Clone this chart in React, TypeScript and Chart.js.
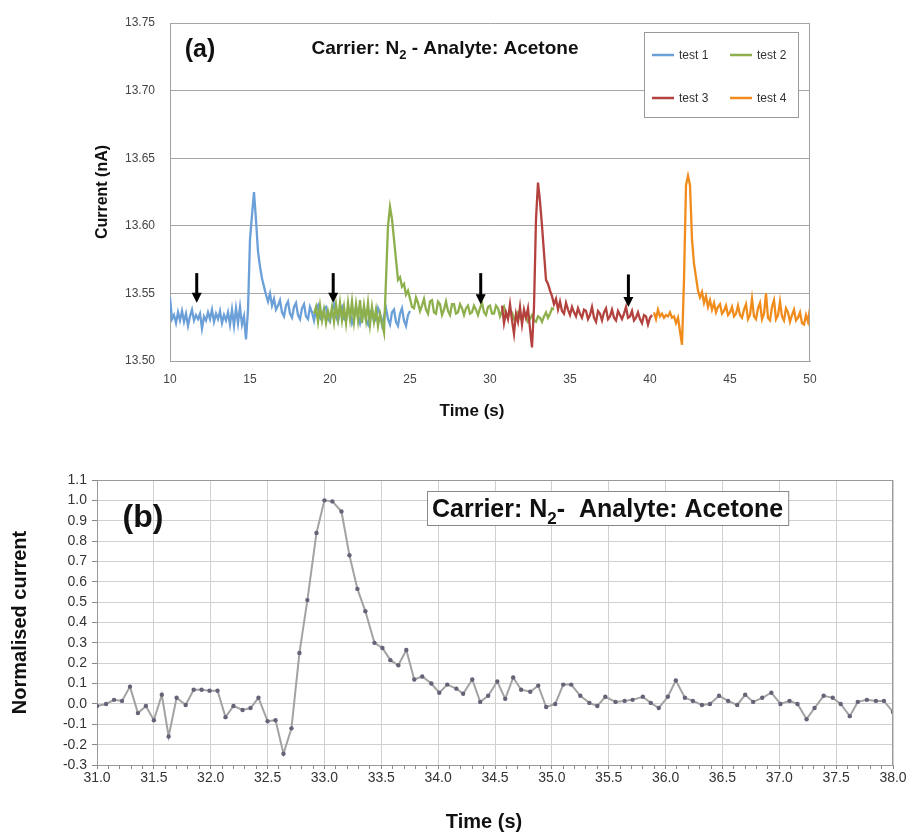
import React, { useEffect, useRef } from "react";
import { Chart, registerables } from "chart.js";

Chart.register(...registerables);

const FONT = "'Liberation Sans', Arial, Helvetica, sans-serif";

// ---------------- Panel (a) data ----------------
const seriesLabels = ["test 1", "test 2", "test 3", "test 4"];
const seriesColors = ["#6a9fd8", "#8db04c", "#b3423f", "#f08c1c"];
const sampleStep = 0.125; // s between samples
const seriesStart = [10, 19, 30.75, 40.25]; // s, first sample of each test

const test1 = [
  13.547, 13.531, 13.534, 13.528, 13.536, 13.530, 13.537, 13.529, 13.535, 13.526,
  13.533, 13.538, 13.530, 13.534, 13.531, 13.535, 13.524, 13.533, 13.530, 13.536,
  13.531, 13.538, 13.529, 13.535, 13.531, 13.537, 13.528, 13.534, 13.530, 13.536,
  13.527, 13.538, 13.526, 13.539, 13.528, 13.540, 13.527, 13.533, 13.516, 13.538,
  13.590, 13.608, 13.625, 13.604, 13.581, 13.570, 13.561, 13.555,
  13.549, 13.544, 13.550, 13.541, 13.546, 13.538, 13.541, 13.545, 13.536, 13.533,
  13.541, 13.544, 13.535, 13.532, 13.540, 13.543, 13.534, 13.531, 13.539, 13.542,
  13.533, 13.531, 13.540, 13.536, 13.530, 13.538, 13.541, 13.532, 13.530, 13.539,
  13.540, 13.531, 13.529, 13.538, 13.542, 13.533, 13.529, 13.537, 13.540, 13.531,
  13.530, 13.539, 13.536, 13.528, 13.533, 13.540, 13.534, 13.528, 13.536, 13.539,
  13.530, 13.527, 13.536, 13.538, 13.529, 13.531, 13.539, 13.535, 13.527, 13.533,
  13.539, 13.531, 13.527, 13.536, 13.538, 13.529, 13.526, 13.535, 13.539, 13.530,
  13.526, 13.534, 13.537,
];

const test2 = [
  13.535, 13.540, 13.529, 13.541, 13.530, 13.538, 13.528, 13.537, 13.531, 13.540,
  13.529, 13.542, 13.531, 13.543, 13.530, 13.540, 13.528, 13.543, 13.531, 13.544,
  13.529, 13.542, 13.530, 13.545, 13.528, 13.541, 13.530, 13.543, 13.527, 13.540,
  13.529, 13.538, 13.526, 13.535, 13.528, 13.521, 13.560, 13.600, 13.614, 13.605,
  13.590, 13.575, 13.560, 13.562, 13.555, 13.557, 13.549, 13.552,
  13.546, 13.540, 13.539, 13.547, 13.543, 13.537, 13.541, 13.546, 13.538, 13.535,
  13.544, 13.545, 13.536, 13.535, 13.544, 13.542, 13.534, 13.538, 13.544, 13.537,
  13.534, 13.542, 13.542, 13.535, 13.536, 13.542, 13.539, 13.534, 13.539, 13.541,
  13.535, 13.536, 13.541, 13.538, 13.534, 13.539, 13.543, 13.536, 13.534, 13.540,
  13.541, 13.535, 13.535, 13.541, 13.539, 13.533, 13.537, 13.540, 13.534, 13.532,
  13.537, 13.536, 13.531, 13.533, 13.536, 13.532, 13.530, 13.534, 13.533, 13.529,
  13.531, 13.534, 13.530, 13.529, 13.533, 13.532, 13.529, 13.533, 13.536, 13.532,
  13.535, 13.539, 13.538,
];

const test3 = [
  13.541, 13.528, 13.536, 13.531, 13.542, 13.530, 13.520, 13.535, 13.529, 13.540,
  13.527, 13.538, 13.532, 13.539, 13.524, 13.510, 13.540, 13.605, 13.632, 13.618,
  13.600, 13.580, 13.560, 13.557, 13.552, 13.548,
  13.542, 13.546, 13.538, 13.544, 13.537, 13.535, 13.543, 13.538, 13.534, 13.540,
  13.536, 13.533, 13.539, 13.535, 13.532, 13.538, 13.537, 13.531, 13.534, 13.540,
  13.532, 13.529, 13.537, 13.535, 13.530, 13.536, 13.539, 13.531, 13.533, 13.538,
  13.532, 13.530, 13.537, 13.534, 13.531, 13.535, 13.540, 13.532, 13.533, 13.537,
  13.530, 13.532, 13.536, 13.531, 13.528, 13.534, 13.533, 13.527, 13.532, 13.534,
];

const test4 = [
  13.536, 13.531, 13.538, 13.533, 13.535, 13.532, 13.534, 13.533, 13.536, 13.532,
  13.533, 13.528, 13.532, 13.522, 13.512, 13.560, 13.630, 13.637, 13.630, 13.590,
  13.572, 13.562,
  13.552, 13.547, 13.551, 13.543, 13.548, 13.540, 13.545, 13.538, 13.543, 13.536,
  13.540, 13.542, 13.535, 13.537, 13.541, 13.534, 13.536, 13.540, 13.533, 13.535,
  13.541, 13.534, 13.532, 13.538, 13.542, 13.531, 13.534, 13.546, 13.533, 13.531,
  13.539, 13.543, 13.531, 13.535, 13.550, 13.532, 13.530, 13.540, 13.545, 13.531,
  13.534, 13.544, 13.533, 13.530, 13.539, 13.536, 13.529, 13.534, 13.538, 13.530,
  13.532, 13.536, 13.528, 13.527, 13.534, 13.529, 13.539,
];

// injection arrows (time, top of shaft, tip) in data units
const arrowTimes = [11.67, 20.2, 29.42, 38.65];
const arrowTops = [13.565, 13.565, 13.565, 13.564];
const arrowTips = [13.543, 13.543, 13.542, 13.540];

const xRangeA = [10, 50];
const xStepA = 5;
const yRangeA = [13.5, 13.75];
const yStepA = 0.05;

// ---------------- Panel (b) data ----------------
const bTimes = [
  31.00, 31.08, 31.15, 31.22, 31.29, 31.36, 31.43, 31.50, 31.57, 31.63,
  31.70, 31.78, 31.85, 31.92, 31.99, 32.06, 32.13, 32.20, 32.28, 32.35,
  32.42, 32.50, 32.57, 32.64, 32.71, 32.78, 32.85, 32.93, 33.00, 33.07,
  33.15, 33.22, 33.29, 33.36, 33.44, 33.51, 33.58, 33.65, 33.72, 33.79,
  33.86, 33.94, 34.01, 34.08, 34.16, 34.22, 34.30, 34.37, 34.44, 34.52,
  34.59, 34.66, 34.73, 34.81, 34.88, 34.95, 35.03, 35.10, 35.17, 35.25,
  35.33, 35.40, 35.47, 35.56, 35.64, 35.71, 35.80, 35.87, 35.94, 36.02,
  36.09, 36.17, 36.24, 36.32, 36.39, 36.47, 36.55, 36.63, 36.70, 36.77,
  36.85, 36.93, 37.01, 37.09, 37.16, 37.24, 37.31, 37.39, 37.47, 37.54,
  37.62, 37.69, 37.77, 37.85, 37.92, 38.00,
];
const bValues = [
  -0.01, 0.0, 0.02, 0.015, 0.085, -0.045, -0.01, -0.08, 0.045, -0.16,
  0.03, -0.005, 0.07, 0.07, 0.065, 0.065, -0.065, -0.01, -0.03, -0.02,
  0.03, -0.085, -0.08, -0.245, -0.12, 0.25, 0.51, 0.84, 1.0, 0.995,
  0.945, 0.73, 0.565, 0.455, 0.30, 0.275, 0.215, 0.19, 0.265, 0.12,
  0.135, 0.10, 0.055, 0.095, 0.075, 0.05, 0.12, 0.01, 0.04, 0.11,
  0.025, 0.13, 0.07, 0.06, 0.09, -0.015, 0.0, 0.095, 0.095, 0.04,
  0.005, -0.01, 0.035, 0.01, 0.015, 0.02, 0.035, 0.005, -0.02, 0.035,
  0.115, 0.03, 0.015, -0.005, 0.0, 0.04, 0.015, -0.005, 0.045, 0.01,
  0.03, 0.055, 0.0, 0.015, 0.0, -0.075, -0.02, 0.04, 0.03, 0.0,
  -0.06, 0.01, 0.02, 0.015, 0.015, -0.04,
];
const xRangeB = [31, 38];
const xMinorStepB = 0.1;
const xLabelStepB = 0.5;
const yRangeB = [-0.3, 1.1];
const yStepB = 0.1;

const titlePartsA = [
  { text: "Carrier: N", sub: false },
  { text: "2", sub: true },
  { text: " - Analyte: Acetone", sub: false },
];
const titlePartsB = [
  { text: "Carrier: N", sub: false },
  { text: "2", sub: true },
  { text: "-  Analyte: Acetone", sub: false },
];

type Part = { text: string; sub: boolean };

function measureRich(ctx: CanvasRenderingContext2D, parts: Part[], size: number) {
  let w = 0;
  for (const p of parts) {
    ctx.font = `bold ${p.sub ? Math.round(size * 0.66) : size}px ${FONT}`;
    w += ctx.measureText(p.text).width;
  }
  return w;
}

function drawRich(ctx: CanvasRenderingContext2D, parts: Part[], x: number, baseline: number, size: number) {
  let cx = x;
  ctx.textAlign = "left";
  ctx.textBaseline = "alphabetic";
  ctx.fillStyle = "#111";
  for (const p of parts) {
    ctx.font = `bold ${p.sub ? Math.round(size * 0.66) : size}px ${FONT}`;
    ctx.fillText(p.text, cx, p.sub ? baseline + size * 0.28 : baseline);
    cx += ctx.measureText(p.text).width;
  }
}

const isMultiple = (v: number, step: number) => {
  const r = Math.round(v / step) * step;
  return Math.abs(v - r) < 1e-6;
};

export default function App() {
  const refA = useRef<HTMLCanvasElement | null>(null);
  const refB = useRef<HTMLCanvasElement | null>(null);

  useEffect(() => {
    document.body.style.margin = "0";
    Chart.defaults.font.family = FONT;

    const dataA = [test1, test2, test3, test4];

    const decorA = {
      id: "decorA",
      afterDraw(chart: any) {
        const { ctx, chartArea: ca, scales } = chart;
        const xs = scales.x;
        const ys = scales.y;
        ctx.save();
        // right frame
        ctx.strokeStyle = "#a0a0a0";
        ctx.lineWidth = 1;
        ctx.beginPath();
        ctx.moveTo(Math.round(ca.right) - 0.5, ca.top);
        ctx.lineTo(Math.round(ca.right) - 0.5, ca.bottom);
        ctx.stroke();

        // arrows
        ctx.fillStyle = "#000";
        ctx.strokeStyle = "#000";
        arrowTimes.forEach((t, i) => {
          const x = xs.getPixelForValue(t);
          const yTop = ys.getPixelForValue(arrowTops[i]);
          const yTip = ys.getPixelForValue(arrowTips[i]);
          ctx.lineWidth = 3;
          ctx.beginPath();
          ctx.moveTo(x, yTop);
          ctx.lineTo(x, yTip - 8);
          ctx.stroke();
          ctx.beginPath();
          ctx.moveTo(x - 5, yTip - 10);
          ctx.lineTo(x + 5, yTip - 10);
          ctx.lineTo(x, yTip);
          ctx.closePath();
          ctx.fill();
        });

        // panel label
        ctx.fillStyle = "#111";
        ctx.font = `bold 25px ${FONT}`;
        ctx.textAlign = "center";
        ctx.textBaseline = "middle";
        ctx.fillText("(a)", ca.left + 30, ca.top + 27);

        // title
        const size = 19;
        const w = measureRich(ctx, titlePartsA, size);
        drawRich(ctx, titlePartsA, ca.left + 275 - w / 2, ca.top + 31, size);

        // legend
        const lx = ca.left + 474;
        const ly = ca.top + 9;
        ctx.fillStyle = "#fff";
        ctx.fillRect(lx, ly, 154, 85);
        ctx.strokeStyle = "#9a9a9a";
        ctx.lineWidth = 1;
        ctx.strokeRect(lx + 0.5, ly + 0.5, 154, 85);
        const cols = [8, 86];
        const rows = [23, 66];
        seriesLabels.forEach((lab, i) => {
          const cx = lx + cols[i % 2];
          const cy = ly + rows[Math.floor(i / 2)];
          ctx.strokeStyle = seriesColors[i];
          ctx.lineWidth = 2.5;
          ctx.beginPath();
          ctx.moveTo(cx, cy);
          ctx.lineTo(cx + 22, cy);
          ctx.stroke();
          ctx.fillStyle = "#333";
          ctx.font = `12px ${FONT}`;
          ctx.textAlign = "left";
          ctx.textBaseline = "middle";
          ctx.fillText(lab, cx + 27, cy + 1);
        });

        // x axis title
        ctx.fillStyle = "#111";
        ctx.font = `bold 17px ${FONT}`;
        ctx.textAlign = "center";
        ctx.textBaseline = "middle";
        ctx.fillText("Time (s)", ca.left + 302, ca.bottom + 50);
        ctx.restore();
      },
    };

    const chartA = new Chart(refA.current as HTMLCanvasElement, {
      type: "line",
      data: {
        datasets: dataA.map((vals, k) => ({
          label: seriesLabels[k],
          data: vals.map((v, i) => ({ x: seriesStart[k] + i * sampleStep, y: v })),
          borderColor: seriesColors[k],
          backgroundColor: seriesColors[k],
          borderWidth: 2.3,
          pointRadius: 0,
          tension: 0,
          order: 4 - k,
        })),
      },
      options: {
        responsive: false,
        animation: false,
        events: [],
        layout: { padding: { left: 89, right: 96, top: 23, bottom: 0 } },
        plugins: { legend: { display: false }, tooltip: { enabled: false } },
        scales: {
          x: {
            type: "linear",
            min: xRangeA[0],
            max: xRangeA[1],
            ticks: {
              stepSize: xStepA,
              color: "#444",
              font: { family: FONT, size: 12 },
              padding: 11,
              maxRotation: 0,
            },
            grid: { display: false, drawTicks: false },
            border: { display: true, color: "#a0a0a0", width: 1 },
            afterFit: (s: any) => {
              s.height = 79;
              s.paddingLeft = 0;
              s.paddingRight = 0;
            },
          },
          y: {
            type: "linear",
            min: yRangeA[0],
            max: yRangeA[1],
            ticks: {
              stepSize: yStepA,
              autoSkip: false,
              color: "#444",
              font: { family: FONT, size: 12 },
              padding: 15,
              callback: (v: any) => Number(v).toFixed(2),
            },
            grid: { color: "#a6a6a6", drawTicks: false, lineWidth: 1 },
            border: { display: true, color: "#a0a0a0", width: 1 },
            title: {
              display: true,
              text: "Current (nA)",
              color: "#111",
              font: { family: FONT, size: 16, weight: "bold" },
              padding: { top: 4, bottom: 4 },
            },
            afterFit: (s: any) => {
              s.width = 81;
            },
          },
        },
      } as any,
      plugins: [decorA],
    });

    const decorB = {
      id: "decorB",
      afterDraw(chart: any) {
        const { ctx, chartArea: ca } = chart;
        ctx.save();
        ctx.strokeStyle = "#999";
        ctx.lineWidth = 1;
        ctx.beginPath();
        ctx.moveTo(ca.left, Math.round(ca.top) + 0.5);
        ctx.lineTo(ca.right, Math.round(ca.top) + 0.5);
        ctx.moveTo(Math.round(ca.right) - 0.5, ca.top);
        ctx.lineTo(Math.round(ca.right) - 0.5, ca.bottom);
        ctx.stroke();

        ctx.fillStyle = "#111";
        ctx.font = `bold 32px ${FONT}`;
        ctx.textAlign = "center";
        ctx.textBaseline = "middle";
        ctx.fillText("(b)", ca.left + 46, ca.top + 38);

        const size = 25;
        const w = measureRich(ctx, titlePartsB, size);
        const bx = ca.left + 330;
        const by = ca.top + 11;
        ctx.fillStyle = "#fff";
        ctx.fillRect(bx, by, w + 10, 34);
        ctx.strokeStyle = "#888";
        ctx.strokeRect(bx + 0.5, by + 0.5, w + 10, 34);
        drawRich(ctx, titlePartsB, bx + 5, by + 26, size);

        ctx.fillStyle = "#111";
        ctx.font = `bold 20px ${FONT}`;
        ctx.textAlign = "center";
        ctx.textBaseline = "middle";
        ctx.fillText("Time (s)", ca.left + 387, ca.bottom + 57);
        ctx.restore();
      },
    };

    const chartB = new Chart(refB.current as HTMLCanvasElement, {
      type: "line",
      data: {
        datasets: [
          {
            label: "Normalised current",
            data: bTimes.map((t, i) => ({ x: t, y: bValues[i] })),
            borderColor: "#a3a3a3",
            borderWidth: 2,
            pointRadius: 2.2,
            pointBackgroundColor: "#646478",
            pointBorderWidth: 0,
            tension: 0,
          },
        ],
      },
      options: {
        responsive: false,
        animation: false,
        events: [],
        layout: { padding: { left: 4, right: 13, top: 40, bottom: 0 } },
        plugins: { legend: { display: false }, tooltip: { enabled: false } },
        scales: {
          x: {
            type: "linear",
            min: xRangeB[0],
            max: xRangeB[1],
            ticks: {
              stepSize: xMinorStepB,
              autoSkip: false,
              maxRotation: 0,
              minRotation: 0,
              color: "#333",
              font: { family: FONT, size: 14 },
              padding: 1,
              callback: (v: any) => {
                const n = Number(v);
                return isMultiple(n, xLabelStepB) ? n.toFixed(1) : "";
              },
            },
            grid: {
              color: (c: any) =>
                c.tick && isMultiple(c.tick.value, xLabelStepB) ? "#d0d0d0" : "rgba(0,0,0,0)",
              tickColor: "#888",
              tickLength: 4,
              lineWidth: 1,
            },
            border: { display: true, color: "#999", width: 1 },
            afterFit: (s: any) => {
              s.height = 68;
              s.paddingLeft = 0;
              s.paddingRight = 0;
            },
          },
          y: {
            type: "linear",
            min: yRangeB[0],
            max: yRangeB[1],
            ticks: {
              stepSize: yStepB,
              autoSkip: false,
              color: "#333",
              font: { family: FONT, size: 14 },
              padding: 5,
              callback: (v: any) => {
                const n = Number(v);
                return Math.abs(n) < 1e-9 ? "0.0" : n.toFixed(1);
              },
            },
            grid: { color: "#d0d0d0", tickColor: "#888", tickLength: 5, lineWidth: 1 },
            border: { display: true, color: "#999", width: 1 },
            title: {
              display: true,
              text: "Normalised current",
              color: "#111",
              font: { family: FONT, size: 20, weight: "bold" },
              padding: { top: 4, bottom: 4 },
            },
            afterFit: (s: any) => {
              s.width = 93;
            },
          },
        },
      } as any,
      plugins: [decorB],
    });

    return () => {
      chartA.destroy();
      chartB.destroy();
    };
  }, []);

  return (
    <div style={{ width: 906, height: 833, background: "#fff" }}>
      <canvas ref={refA} width={906} height={440} style={{ display: "block" }} />
      <canvas ref={refB} width={906} height={393} style={{ display: "block" }} />
    </div>
  );
}
